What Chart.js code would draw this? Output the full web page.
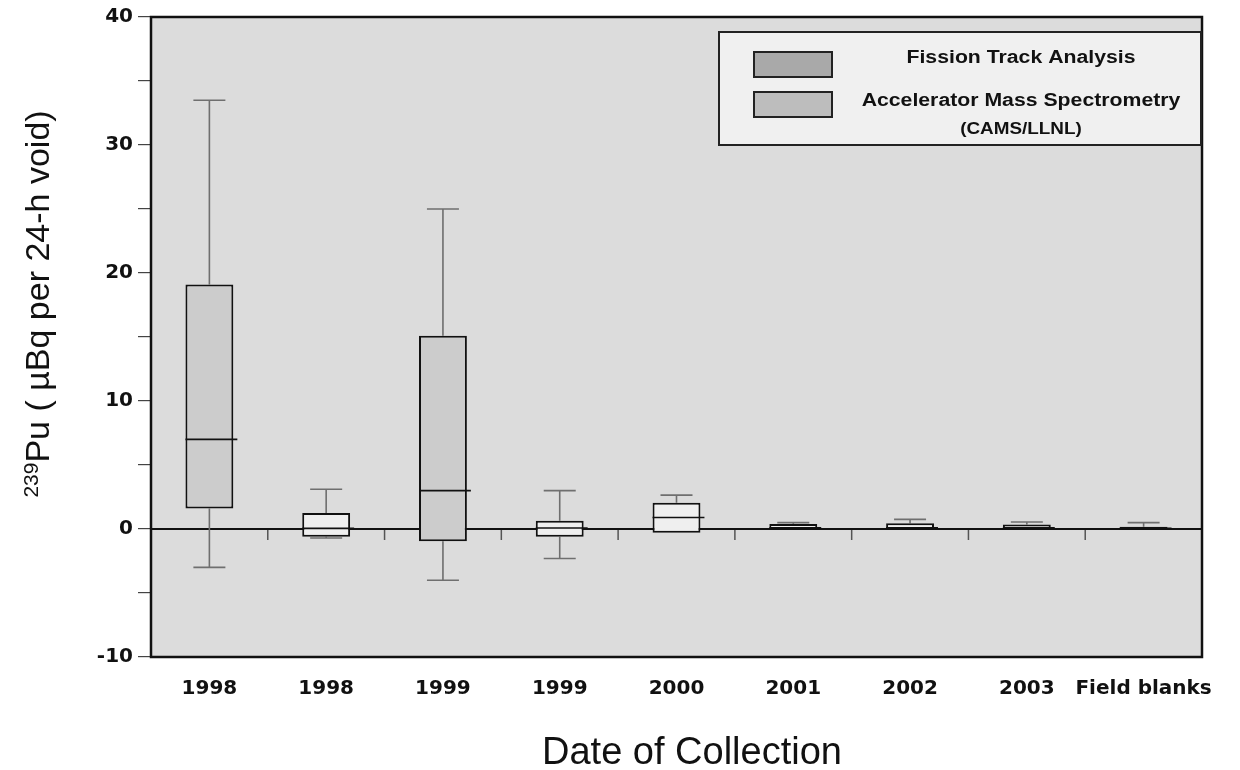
<!DOCTYPE html>
<html>
<head>
<meta charset="utf-8">
<script src="https://cdn.jsdelivr.net/npm/chart.js@4.4.0/dist/chart.umd.min.js"></script>
<style>
    html, body { margin: 0; padding: 0; background: #fff; }
    #wrap { width: 1240px; height: 770px; }
</style>
</head>
<body>
<div id="wrap"><canvas id="pu"></canvas></div>
<script>
// Data
const categories = ['1998', '1998', '1999', '1999', '2000', '2001', '2002', '2003', 'Field blanks'];
const methods = ['FTA', 'AMS', 'FTA', 'AMS', 'AMS', 'AMS', 'AMS', 'AMS', 'BLANK'];
const whiskerLow = [-3.0, -0.7, -4.0, -2.3, -0.3, -0.08, -0.08, -0.08, -0.1];
const q1 = [1.6, -0.6, -0.95, -0.6, -0.3, -0.05, -0.05, -0.05, -0.08];
const medians = [7.0, 0.05, 3.0, 0.08, 0.9, 0.1, 0.1, 0.1, 0.05];
const q3 = [19.1, 1.25, 15.1, 0.65, 2.05, 0.4, 0.45, 0.35, 0.18];
const whiskerHigh = [33.5, 3.1, 25.0, 3.0, 2.65, 0.5, 0.75, 0.55, 0.5];
const yMin = -10;
const yMax = 40;
const yStep = 5;

const legendItems = [
    { text: ['Fission Track Analysis'], swatch: '#a9a9a9' },
    { text: ['Accelerator Mass Spectrometry', '(CAMS/LLNL)'], swatch: '#bdbdbd' }
];

const fills = { FTA: '#cccccc', AMS: '#efefef', BLANK: '#a8a8a8' };
const font = "'Liberation Sans', Arial, sans-serif";
const tickFont = "'DejaVu Sans', sans-serif";

// background, zero line, whiskers, medians, frame, titles, legend
const boxPlotPlugin = {
    id: 'boxPlot',
    beforeDatasetsDraw(chart) {
        const { ctx, chartArea: a, scales: { x, y } } = chart;
        ctx.save();
        const y0 = y.getPixelForValue(0);
        // small separators hanging from zero line
        ctx.strokeStyle = '#555';
        ctx.lineWidth = 1.5;
        for (let i = 0; i < categories.length - 1; i++) {
            const xs = (x.getPixelForValue(i) + x.getPixelForValue(i + 1)) / 2;
            ctx.beginPath();
            ctx.moveTo(xs, y0);
            ctx.lineTo(xs, y0 + 11);
            ctx.stroke();
        }
        // zero line
        ctx.strokeStyle = '#111';
        ctx.lineWidth = 2;
        ctx.beginPath();
        ctx.moveTo(a.left, y0);
        ctx.lineTo(a.right, y0);
        ctx.stroke();
        // whiskers
        ctx.strokeStyle = '#6f6f6f';
        ctx.lineWidth = 1.6;
        categories.forEach((c, i) => {
            const xc = x.getPixelForValue(i);
            const capHalf = 16;
            [[q3[i], whiskerHigh[i]], [q1[i], whiskerLow[i]]].forEach(([from, to]) => {
                if (Math.abs(to - from) < 0.05) return;
                const p1 = y.getPixelForValue(from);
                const p2 = y.getPixelForValue(to);
                ctx.beginPath();
                ctx.moveTo(xc, p1);
                ctx.lineTo(xc, p2);
                ctx.moveTo(xc - capHalf, p2);
                ctx.lineTo(xc + capHalf, p2);
                ctx.stroke();
            });
        });
        ctx.restore();
    },
    afterDatasetsDraw(chart) {
        const { ctx, chartArea: a, scales: { x, y } } = chart;
        const meta = chart.getDatasetMeta(0);
        ctx.save();
        ctx.strokeStyle = '#111';
        ctx.lineWidth = 1.6;
        categories.forEach((c, i) => {
            const bar = meta.data[i];
            const half = bar.width / 2;
            const xc = x.getPixelForValue(i);
            const ym = y.getPixelForValue(medians[i]);
            ctx.beginPath();
            ctx.moveTo(xc - half, ym);
            ctx.lineTo(xc + half + 4, ym);
            ctx.stroke();
        });
        // frame
        ctx.lineWidth = 2.5;
        ctx.strokeRect(a.left, a.top, a.right - a.left, a.bottom - a.top);
        ctx.restore();
    },
    beforeDraw(chart) {
        const { ctx, chartArea: a } = chart;
        ctx.save();
        ctx.fillStyle = '#dcdcdc';
        ctx.fillRect(a.left, a.top, a.right - a.left, a.bottom - a.top);
        ctx.restore();
    },
    afterDraw(chart) {
        const { ctx } = chart;
        ctx.save();
        ctx.fillStyle = '#111';
        // x title
        ctx.font = '38px ' + font;
        ctx.textAlign = 'center';
        ctx.textBaseline = 'middle';
        ctx.fillText('Date of Collection', 692, 754);
        // y title with superscript
        ctx.translate(40, 304);
        ctx.rotate(-Math.PI / 2);
        ctx.textAlign = 'left';
        const supFont = '21px ' + font;
        const mainFont = '34px ' + font;
        ctx.font = supFont;
        const wSup = ctx.measureText('239').width;
        ctx.font = mainFont;
        const main = 'Pu ( \u00b5Bq per 24-h void)';
        const wMain = ctx.measureText(main).width;
        const start = -(wSup + wMain) / 2;
        ctx.font = supFont;
        ctx.fillText('239', start, -8);
        ctx.font = mainFont;
        ctx.fillText(main, start + wSup, 0);
        ctx.restore();

        // legend
        ctx.save();
        const lx = 719, ly = 32, lw = 482, lh = 113;
        ctx.fillStyle = '#f0f0f0';
        ctx.fillRect(lx, ly, lw, lh);
        ctx.strokeStyle = '#222';
        ctx.lineWidth = 2;
        ctx.strokeRect(lx, ly, lw, lh);
        const rows = [[52, [58]], [92, [101, 130]]];
        legendItems.forEach((item, k) => {
            const [sy, ty] = rows[k];
            ctx.fillStyle = item.swatch;
            ctx.fillRect(754, sy, 78, 25);
            ctx.strokeStyle = '#222';
            ctx.lineWidth = 2;
            ctx.strokeRect(754, sy, 78, 25);
            ctx.fillStyle = '#111';
            ctx.textAlign = 'center';
            ctx.textBaseline = 'middle';
            item.text.forEach((t, j) => {
                ctx.save();
                ctx.font = (j === 0 ? 'bold 18px ' : 'bold 16px ') + font;
                ctx.translate(1021, ty[j]);
                ctx.scale(1.18, 1);
                ctx.fillText(t, 0, 0);
                ctx.restore();
            });
        });
        ctx.restore();
    }
};

const ctx = document.getElementById('pu').getContext('2d');
const puChart = new Chart(ctx, {
    type: 'bar',
    data: {
        labels: categories,
        datasets: [{
            label: 'Box',
            data: categories.map((c, i) => [q1[i], q3[i]]),
            backgroundColor: methods.map(m => fills[m]),
            borderColor: '#111',
            borderWidth: 2,
            borderSkipped: false,
            barPercentage: 0.41,
            categoryPercentage: 1.0
        }]
    },
    options: {
        responsive: true,
        maintainAspectRatio: false,
        animation: false,
        layout: { padding: { top: 17, right: 38, left: 0, bottom: 0 } },
        plugins: {
            legend: { display: false },
            tooltip: { enabled: false }
        },
        scales: {
            x: {
                offset: true,
                grid: { display: false, drawTicks: false },
                border: { display: false },
                ticks: {
                    color: '#111',
                    padding: 20,
                    maxRotation: 0,
                    autoSkip: false,
                    font: { family: tickFont, size: 20, weight: 'bold' }
                },
                afterFit(scale) { scale.height = 113; }
            },
            y: {
                min: yMin,
                max: yMax,
                grid: {
                    drawOnChartArea: false,
                    drawTicks: true,
                    tickLength: 13,
                    color: '#444',
                    lineWidth: 1.2
                },
                border: { display: false },
                ticks: {
                    stepSize: yStep,
                    autoSkip: false,
                    color: '#111',
                    padding: 5,
                    font: { family: tickFont, size: 20, weight: 'bold' },
                    callback: v => (v % 10 === 0 ? v : '')
                },
                afterFit(scale) { scale.width = 151; }
            }
        }
    },
    plugins: [boxPlotPlugin]
});
</script>
</body>
</html>
